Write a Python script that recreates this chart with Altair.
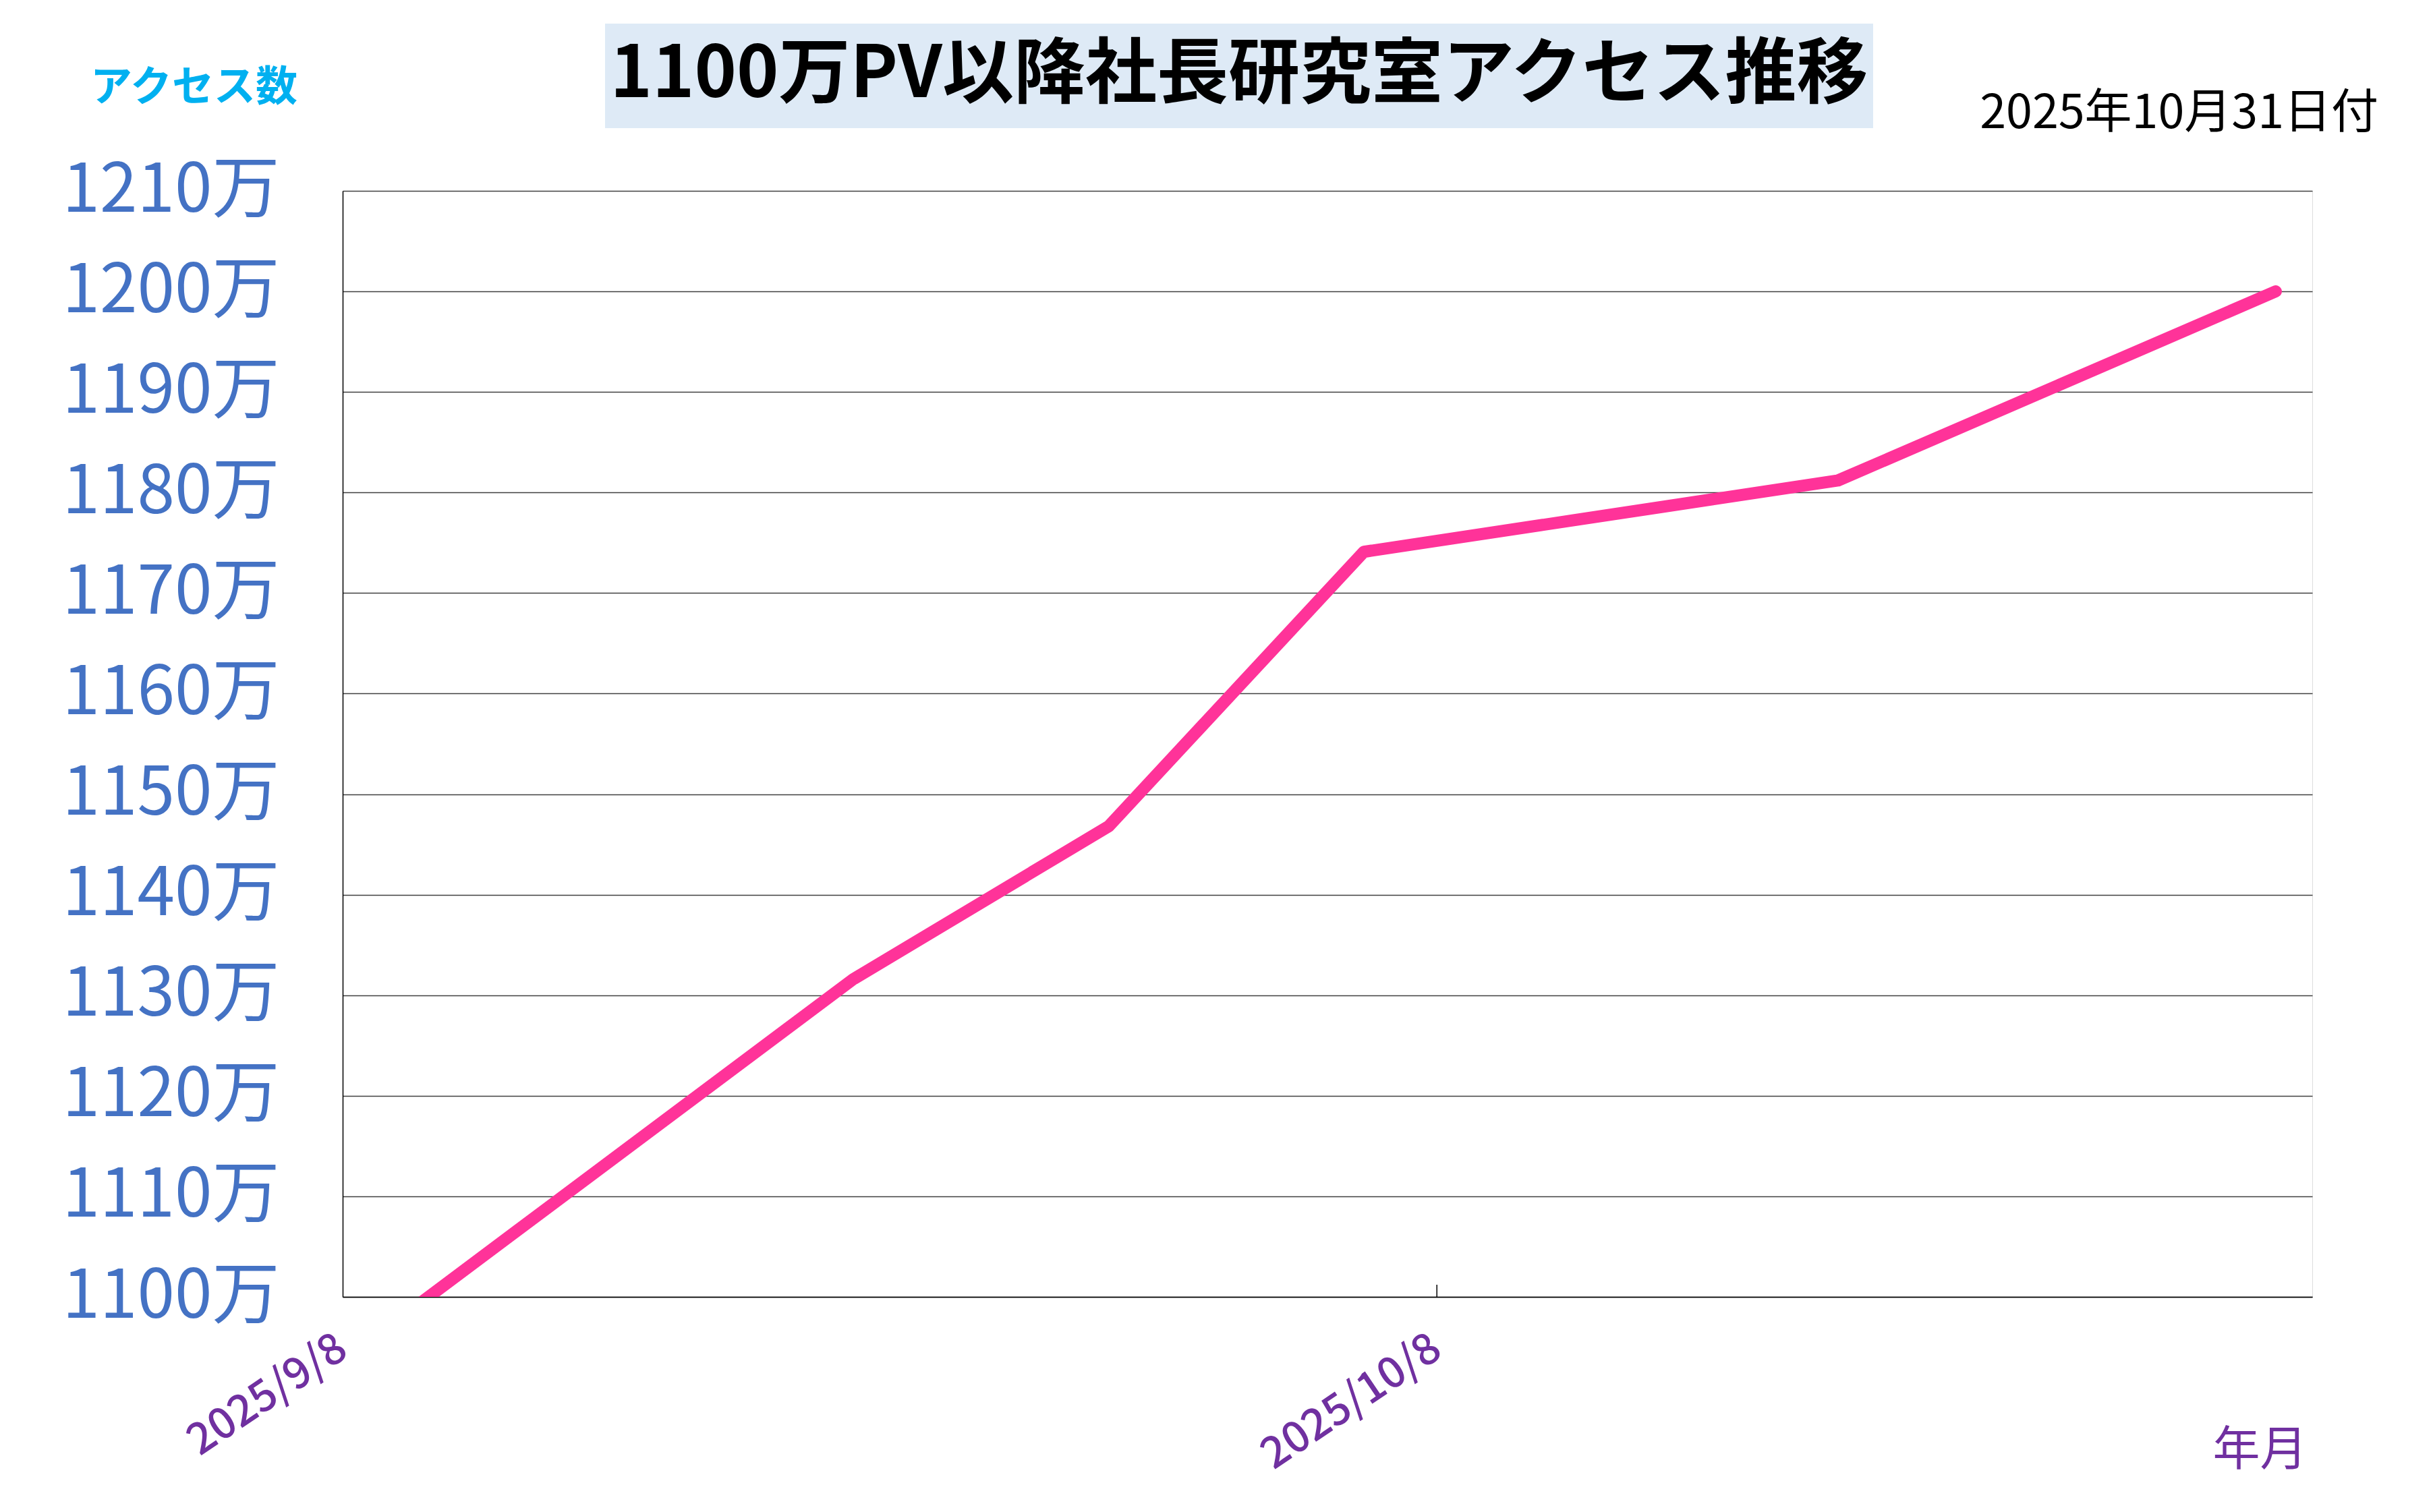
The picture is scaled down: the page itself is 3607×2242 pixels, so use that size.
import altair as alt
import pandas as pd

# ---- data ----
dates = ["2025-09-08", "2025-09-22", "2025-09-29", "2025-10-06", "2025-10-19", "2025-10-31"]
pv = [10936000, 11316000, 11468000, 11741000, 11812000, 12000000]

y_ticks = [11000000, 11100000, 11200000, 11300000, 11400000, 11500000,
           11600000, 11700000, 11800000, 11900000, 12000000, 12100000]
x_tick_dates = ["2025-09-08", "2025-10-08"]
x_domain = ["2025-09-08", "2025-11-01"]

title_text = "1100万PV以降社長研究室アクセス推移"
date_note = "2025年10月31日付"
y_title = "アクセス数"
x_title = "年月"

FONT = "Noto Sans CJK JP"
W, H = 2920, 1640


def dt(s):
    y, m, d = (int(v) for v in s.split("-"))
    return alt.DateTime(year=y, month=m, date=d, utc=True)


df = pd.DataFrame({"date": dates, "pv": pv})
tick_df = pd.DataFrame({"date": x_tick_dates[1:]})
one = pd.DataFrame({"t": [title_text], "d": [date_note]})

x_enc = alt.X(
    "date:T",
    scale=alt.Scale(type="utc", domain=[dt(s) for s in x_domain]),
    axis=alt.Axis(
        values=[dt(s) for s in x_tick_dates],
        labelExpr="utcFormat(datum.value, '%Y/%-m/%-d')",
        labelAngle=326,
        labelAlign="right",
        labelBaseline="middle",
        labelPadding=70,
        labelFontSize=64,
        labelFontWeight=500,
        labelColor="#7030A0",
        labelFont=FONT,
        labelLimit=0,
        ticks=False,
        tickSize=0,
        grid=False,
        domainColor="#000000",
        domainWidth=1.5,
        title=x_title,
        titleX=2842,
        titleY=228,
        titleAngle=0,
        titleAlign="center",
        titleBaseline="middle",
        titleFontSize=70,
        titleFontWeight="normal",
        titleColor="#7030A0",
        titleFont=FONT,
        labelOverlap=False,
    ),
)

y_enc = alt.Y(
    "pv:Q",
    scale=alt.Scale(domain=[y_ticks[0], y_ticks[-1]], nice=False, zero=False),
    axis=alt.Axis(
        values=y_ticks,
        labelExpr="format(datum.value / 10000, 'd') + '万'",
        labelFontSize=100,
        labelColor="#4472C4",
        labelFont=FONT,
        labelPadding=94,
        labelBaseline="middle",
        labelLimit=0,
        ticks=False,
        tickSize=0,
        grid=True,
        gridColor="#404040",
        gridWidth=1.5,
        domainColor="#000000",
        domainWidth=1.5,
        title=y_title,
        titleX=-221,
        titleY=-153,
        titleAngle=0,
        titleAlign="center",
        titleBaseline="middle",
        titleFontSize=62,
        titleFontWeight="bold",
        titleColor="#00B0F0",
        titleFont=FONT,
        labelOverlap=False,
    ),
)

line = alt.Chart(df).mark_line(
    color="#FF3399", strokeWidth=18, strokeCap="round", strokeJoin="round", clip=True
).encode(x=x_enc, y=y_enc)

tick = alt.Chart(tick_df).mark_rule(color="#000000", strokeWidth=1.5).encode(
    x="date:T", y=alt.value(H - 18), y2=alt.value(H)
)

title_bg = alt.Chart(one).mark_rect(color="#DEEAF6").encode(
    x=alt.value(389), x2=alt.value(2269), y=alt.value(-248), y2=alt.value(-93)
)

title_txt = alt.Chart(one).mark_text(
    font=FONT, fontSize=106, fontWeight="bold", color="#000000",
    align="center", baseline="middle"
).encode(x=alt.value(1329), y=alt.value(-171), text="t:N")

date_txt = alt.Chart(one).mark_text(
    font=FONT, fontSize=70, color="#000000", align="right", baseline="alphabetic"
).encode(x=alt.value(3018), y=alt.value(-93), text="d:N")

chart = alt.layer(title_bg, title_txt, date_txt, line, tick).properties(
    width=W,
    height=H,
    autosize=alt.AutoSizeParams(type="none"),
    padding={"left": 500, "top": 275, "right": 170, "bottom": 300},
    background="#FFFFFF",
).configure_view(
    stroke="#868686", strokeWidth=4
).configure(font=FONT)

chart.save("out.html", embed_options={"renderer": "svg", "actions": False})
